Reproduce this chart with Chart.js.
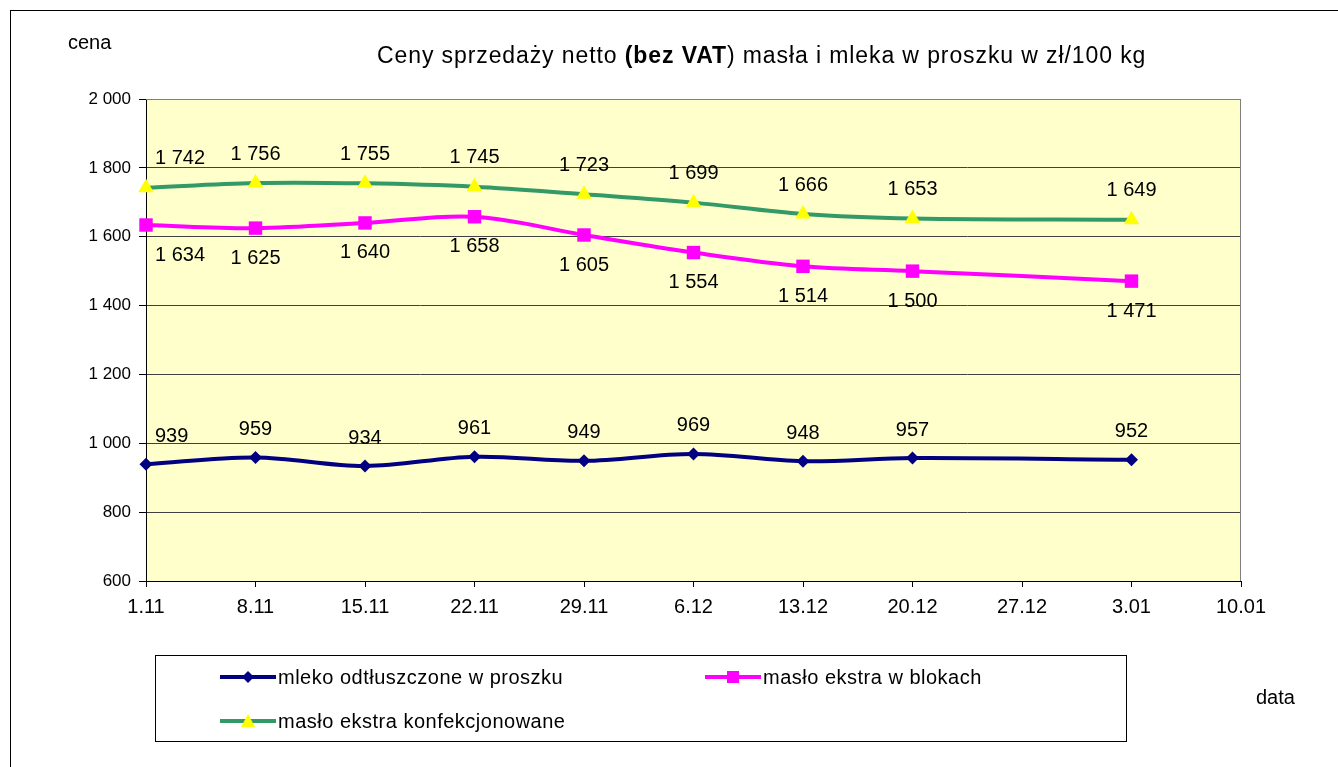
<!DOCTYPE html>
<html>
<head>
<meta charset="utf-8">
<script src="https://cdn.jsdelivr.net/npm/chart.js@4.4.1/dist/chart.umd.min.js"></script>
<style>
  html, body { margin: 0; padding: 0; background: #fff; overflow: hidden; }
  #wrap { position: relative; width: 1338px; height: 767px; font-family: "Liberation Sans", Arial, sans-serif; color: #000; }
  #frame { position: absolute; left: 10px; top: 10px; width: 1400px; height: 800px; border-top: 1px solid #000; border-left: 1px solid #000; }
  canvas { position: absolute; left: 0; top: 0; }
  .txt { position: absolute; white-space: nowrap; line-height: 24px; font-size: 20px; }
  .leg { letter-spacing: 0.5px; }
  #title { position: absolute; left: 377px; top: 41px; font-size: 23px; letter-spacing: 0.9px; line-height: 28px; white-space: nowrap; }
  #legend { position: absolute; left: 155px; top: 655px; width: 970px; height: 85px; border: 1px solid #000; }
  .mk { position: absolute; }
</style>
</head>
<body>
<div id="wrap">
  <div id="frame"></div>
  <canvas id="chart" width="1338" height="767"></canvas>
  <div class="txt" style="left:68px;top:30px;">cena</div>
  <div id="title">Ceny sprzedaży netto <b>(bez VAT</b>) masła i mleka w proszku w zł/100 kg</div>
  <div class="txt" style="left:1256px;top:685px;">data</div>
  <div id="legend"></div>
  <svg class="mk" style="left:220px;top:669px" width="56" height="16">
    <line x1="0" y1="8" x2="56" y2="8" stroke="#000080" stroke-width="4" stroke-linecap="round"/>
    <polygon points="28,2 34,8 28,14 22,8" fill="#000080"/>
  </svg>
  <div class="txt leg" style="left:278px;top:665px;">mleko odtłuszczone w proszku</div>
  <svg class="mk" style="left:705px;top:669px" width="56" height="16">
    <line x1="0" y1="8" x2="56" y2="8" stroke="#FF00FF" stroke-width="4" stroke-linecap="round"/>
    <rect x="22" y="2" width="12" height="12" fill="#FF00FF"/>
  </svg>
  <div class="txt leg" style="left:763px;top:665px;">masło ekstra w blokach</div>
  <svg class="mk" style="left:220px;top:713px" width="56" height="16">
    <line x1="0" y1="8" x2="56" y2="8" stroke="#339966" stroke-width="4" stroke-linecap="round"/>
    <polygon points="28,1 35,14 21,14" fill="#FFFF00"/>
  </svg>
  <div class="txt leg" style="left:278px;top:709px;">masło ekstra konfekcjonowane</div>
</div>
<script>
// days from 1.11
var days = [0, 7, 14, 21, 28, 35, 42, 49, 63];
var xTickLabels = ["1.11", "8.11", "15.11", "22.11", "29.11", "6.12", "13.12", "20.12", "27.12", "3.01", "10.01"];

var mleko = [939, 959, 934, 961, 949, 969, 948, 957, 952];
var masloBloki = [1634, 1625, 1640, 1658, 1605, 1554, 1514, 1500, 1471];
var masloKonf = [1742, 1756, 1755, 1745, 1723, 1699, 1666, 1653, 1649];

function pts(vals) {
    return vals.map(function (v, i) { return { x: days[i], y: v }; });
}

function fmt(v) {
    return String(v).replace(/\B(?=(\d{3})+(?!\d))/g, " ");
}

var FONT = '"Liberation Sans", Arial, sans-serif';

// yellow plot background + right border
var plotBg = {
    id: 'plotBg',
    beforeDraw: function (chart) {
        var a = chart.chartArea, ctx = chart.ctx;
        ctx.save();
        ctx.fillStyle = '#FFFFCC';
        ctx.fillRect(a.left, a.top, a.right - a.left, a.bottom - a.top);
        ctx.restore();
    },
    afterDraw: function (chart) {
        var a = chart.chartArea, ctx = chart.ctx;
        ctx.save();
        ctx.strokeStyle = '#808080';
        ctx.lineWidth = 1;
        ctx.beginPath();
        ctx.moveTo(a.left, a.top + 0.5);
        ctx.lineTo(a.right - 0.5, a.top + 0.5);
        ctx.lineTo(a.right - 0.5, a.bottom);
        ctx.stroke();
        ctx.restore();
    }
};

// value labels above / below points
var valueLabels = {
    id: 'valueLabels',
    afterDatasetsDraw: function (chart) {
        var ctx = chart.ctx, a = chart.chartArea;
        ctx.save();
        ctx.font = '20px ' + FONT;
        ctx.fillStyle = '#000';
        ctx.textBaseline = 'middle';
        ctx.textAlign = 'left';
        chart.data.datasets.forEach(function (ds, di) {
            var meta = chart.getDatasetMeta(di);
            meta.data.forEach(function (p, i) {
                var txt = fmt(ds.data[i].y);
                var w = ctx.measureText(txt).width;
                var left = Math.max(p.x - w / 2, a.left + 9);
                ctx.fillText(txt, left, p.y + ds.labelOffset);
            });
        });
        ctx.restore();
    }
};

new Chart(document.getElementById('chart'), {
    type: 'line',
    data: {
        datasets: [{
            label: 'mleko odtłuszczone w proszku',
            data: pts(mleko),
            borderColor: '#000080',
            backgroundColor: '#000080',
            borderWidth: 4,
            pointStyle: 'rectRot',
            pointRadius: 6.5,
            pointBorderWidth: 0,
            labelOffset: -28,
            order: 3
        },
        {
            label: 'masło ekstra w blokach',
            data: pts(masloBloki),
            borderColor: '#FF00FF',
            backgroundColor: '#FF00FF',
            borderWidth: 4,
            pointStyle: 'rect',
            pointRadius: 9.5,
            pointBorderWidth: 0,
            labelOffset: 30,
            order: 2
        },
        {
            label: 'masło ekstra konfekcjonowane',
            data: pts(masloKonf),
            borderColor: '#339966',
            backgroundColor: '#FFFF00',
            borderWidth: 4,
            pointStyle: 'triangle',
            pointRadius: 9,
            pointBorderWidth: 0,
            labelOffset: -29,
            order: 1
        }]
    },
    options: {
        responsive: false,
        animation: false,
        devicePixelRatio: 1,
        layout: { padding: { top: 99, right: 97, bottom: 146, left: 0 } },
        elements: { line: { tension: 0.35 } },
        datasets: { line: { clip: false } },
        plugins: {
            legend: { display: false },
            title: { display: false },
            tooltip: { enabled: false }
        },
        scales: {
            x: {
                type: 'linear',
                min: 0,
                max: 70,
                afterFit: function (s) { s.height = 40; },
                ticks: {
                    stepSize: 7,
                    autoSkip: false,
                    maxRotation: 0,
                    padding: 8,
                    color: '#000',
                    font: { family: FONT, size: 20 },
                    callback: function (v, i) { return xTickLabels[i]; }
                },
                grid: { drawOnChartArea: false, drawTicks: true, tickLength: 6, tickColor: '#000' },
                border: { display: true, color: '#000', width: 1 }
            },
            y: {
                min: 600,
                max: 2000,
                afterFit: function (s) { s.width = 146; },
                ticks: {
                    stepSize: 200,
                    padding: 8,
                    color: '#000',
                    font: { family: FONT, size: 17 },
                    callback: function (v) { return fmt(v); }
                },
                grid: {
                    color: function (c) { return c.tick && c.tick.value === 2000 ? '#808080' : '#404040'; },
                    tickLength: 7,
                    tickColor: '#000'
                },
                border: { display: true, color: '#000', width: 1 }
            }
        }
    },
    plugins: [plotBg, valueLabels]
});
</script>
</body>
</html>
